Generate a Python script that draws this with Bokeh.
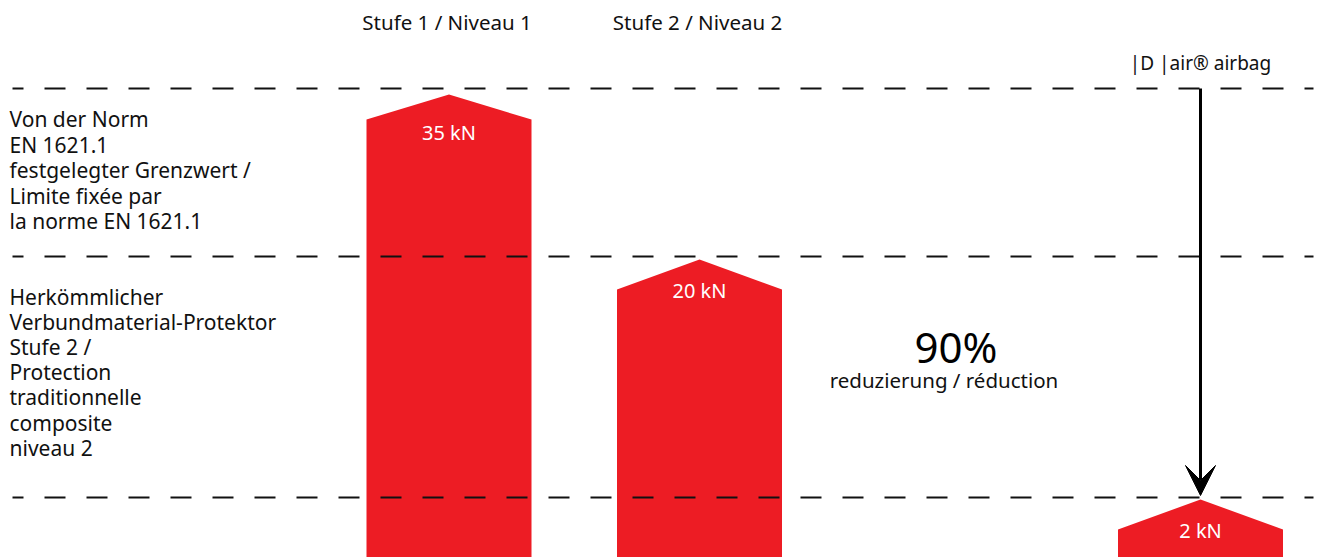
from bokeh.plotting import figure
from bokeh.models import Range1d, Arrow, VeeHead
from bokeh.core.properties import value
from bokeh.embed import file_html
from bokeh.resources import INLINE

# ---------------- data ----------------
categories = ["Stufe 1 / Niveau 1", "Stufe 2 / Niveau 2", "|D |air® airbag"]
slots = [0, 1, 3]                      # column slot of each bar
force_kN = [35, 20, 2]
value_labels = [f"{v} kN" for v in force_kN]
# drawn heights (the graphic is not to scale): roof tip and roof shoulder
bar_peak = [463, 298, 58]
bar_shoulder = [438, 268, 28]
# dashed reference levels (limit, composite protector, airbag)
level_heights = [469, 301, 60]
level_texts = [
    ["Von der Norm", "EN 1621.1", "festgelegter Grenzwert /",
     "Limite fixée par", "la norme EN 1621.1"],
    ["Herkömmlicher", "Verbundmaterial-Protektor", "Stufe 2 /",
     "Protection", "traditionnelle", "composite", "niveau 2"],
]
reduction_pct = 90
reduction_text = "reduzierung / réduction"

# ---------------- layout ----------------
W, H = 1317, 557
PX_PER_SLOT = 250.5
X0_PX = 448.5            # screen position of slot 0
x_start = -X0_PX / PX_PER_SLOT
x_end = (W - X0_PX) / PX_PER_SLOT
def px(d):               # horizontal pixel distance -> data units
    return d / PX_PER_SLOT

BAR_W = px(165)
RED = "#ED1C24"
INK = "#111111"
FONT = value("Noto Sans")

p = figure(width=W, height=H, output_backend="svg", toolbar_location=None,
           x_range=Range1d(x_start, x_end), y_range=Range1d(0, H),
           x_axis_location=None, y_axis_location=None, min_border=0,
           outline_line_color=None, background_fill_color="white",
           border_fill_color="white")
p.grid.visible = False

# bars (house-shaped)
base = -20
xs, ys = [], []
for s, pk, sh in zip(slots, bar_peak, bar_shoulder):
    xs.append([s - BAR_W / 2, s - BAR_W / 2, s, s + BAR_W / 2, s + BAR_W / 2])
    ys.append([base, sh, pk, sh, base])
p.patches(xs, ys, fill_color=RED, line_color=None)

# dashed reference lines
n = len(level_heights)
p.segment(x0=[x_start + px(12)] * n, y0=level_heights,
          x1=[x_end - px(4)] * n, y1=level_heights,
          line_color=INK, line_width=2, line_dash="21 21", line_dash_offset=10)

# arrow to the airbag bar
p.add_layout(Arrow(end=VeeHead(size=30, fill_color="black", line_color="black", line_width=1),
                   x_start=slots[2], y_start=level_heights[0],
                   x_end=slots[2], y_end=level_heights[2] + 2,
                   line_color="black", line_width=3))

# value labels in bars
label_dy = [-7, 0, 0]
p.text(x=slots, y=[pk - 30.5 + d for pk, d in zip(bar_peak, label_dy)], text=value_labels,
       text_color="white", text_font=FONT, text_font_size="20px",
       text_align="center", text_baseline="middle")

# column titles
p.text(x=slots[:2], y=[H - 21] * 2, text=categories[:2], x_offset=-2, text_color=INK,
       text_font=FONT, text_font_size="20.5px", text_align="center",
       text_baseline="middle")
p.text(x=[slots[2]], y=[level_heights[0] + 26], text=[categories[2]], text_color=INK,
       text_font=FONT, text_font_size="19px", text_align="center",
       text_baseline="middle")

# left descriptions
first_gap = [30.5, 40]
line_step = [25.5, 25.2]
lx, ly, lt = [], [], []
for lvl, lines, g, st in zip(level_heights[:2], level_texts, first_gap, line_step):
    for i, t in enumerate(lines):
        lx.append(x_start + px(9))
        ly.append(lvl - g - i * st)
        lt.append(t)
p.text(x=lx, y=ly, text=lt, text_color=INK, text_font=FONT,
       text_font_size="21px", text_align="left", text_baseline="middle")

# reduction note
p.text(x=[2], y=[211], text=[f"{reduction_pct}%"], x_offset=6, text_color="black",
       text_font=FONT, text_font_size="42px", text_align="center",
       text_baseline="middle")
p.text(x=[2], y=[178], text=[reduction_text], x_offset=-6, text_color=INK,
       text_font=FONT, text_font_size="20.5px", text_align="center",
       text_baseline="middle")

open("out.html", "w").write(file_html(p, INLINE))
